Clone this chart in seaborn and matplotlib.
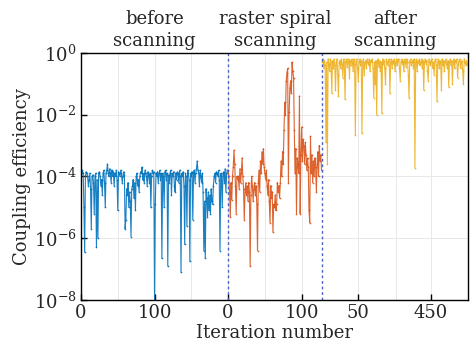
import numpy as np
import pandas as pd
import seaborn as sns
import matplotlib
matplotlib.use("Agg")
import matplotlib.pyplot as plt
from matplotlib.ticker import LogLocator, NullLocator, FixedLocator, NullFormatter

# log10 of coupling efficiency
before_log = [
    -4.1, -3.9, -3.8, -3.9, -5.0, -6.45, -4.0, -3.85, -3.9, -4.0, -4.3, -4.1, -3.9, -4.4, -5.7, -4.0, -3.95, -4.2, -5.2, -4.0,
    -3.9, -6.3, -4.1, -6.0, -3.9, -3.85, -4.0, -4.3, -4.1, -4.6, -3.9, -3.8, -4.2, -5.0, -3.9, -3.8, -3.6, -3.9, -4.0, -3.75,
    -3.9, -4.2, -3.8, -4.0, -3.85, -4.3, -3.9, -4.0, -3.8, -4.1, -5.1, -3.85, -3.9, -4.0, -3.8, -3.9, -4.2, -4.0, -3.85, -3.95,
    -5.7, -5.4, -4.4, -4.6, -4.2, -5.0, -4.5, -4.8, -5.95, -4.4, -4.3, -4.1, -4.7, -4.2, -5.1, -4.0, -3.9, -4.3, -4.1, -4.5,
    -4.0, -3.85, -3.9, -3.7, -4.1, -3.9, -4.2, -3.8, -3.9, -4.0, -4.3, -3.85, -3.95, -4.2, -3.9, -5.0, -4.0, -3.8, -3.9, -3.85,
    -8.0, -4.9, -3.9, -4.0, -3.85, -4.2, -3.9, -3.8, -4.1, -3.9, -6.65, -3.9, -4.0, -5.0, -3.85, -3.8, -4.1, -3.9, -6.9, -3.95,
    -4.2, -3.9, -3.8, -4.6, -3.9, -4.0, -3.85, -4.3, -4.5, -3.9, -4.1, -3.85, -3.9, -4.2, -3.8, -4.0, -7.1, -3.9, -4.0, -3.85,
    -4.3, -6.2, -3.9, -4.0, -5.6, -3.8, -3.9, -4.1, -6.75, -3.9, -4.0, -3.85, -5.4, -3.9, -3.8, -4.2, -3.9, -3.75, -3.5, -3.8,
    -3.9, -4.3, -3.8, -4.0, -4.2, -3.9, -4.5, -6.4, -4.8, -6.65, -4.4, -4.7, -5.3, -4.5, -5.1, -4.6, -5.2, -4.4, -4.8, -4.9,
    -4.3, -4.0, -3.9, -4.2, -3.85, -3.9, -4.0, -3.8, -4.1, -6.4, -3.9, -4.0, -5.0, -3.9, -3.85, -4.2, -3.75, -4.5, -3.9, -3.8,
]
raster_log = [
    -3.8, -4.0, -4.5, -5.3, -4.2, -4.75, -4.0, -3.7, -3.15, -3.6, -4.3, -5.2, -4.0, -4.1, -4.0, -4.4, -3.75, -4.2, -3.9, -3.4,
    -4.0, -4.4, -5.4, -4.5, -4.2, -4.6, -4.3, -4.8, -4.2, -4.5, -6.9, -4.6, -4.0, -4.3, -4.8, -4.4, -4.2, -4.6, -4.3, -4.9,
    -6.4, -4.2, -3.8, -4.5, -3.5, -3.9, -3.2, -3.6, -3.1, -3.7, -3.9, -4.1, -3.8, -4.3, -4.6, -4.1, -4.8, -5.5, -4.3, -4.7,
    -4.5, -5.8, -4.9, -5.0, -4.6, -5.1, -4.9, -4.2, -4.5, -4.3, -4.7, -4.2, -3.5, -4.0, -3.2, -3.6, -2.5, -1.6, -2.0, -0.9,
    -0.65, -0.5, -4.2, -1.9, -1.15, -0.9, -1.3, -0.3, -0.6, -0.8, -2.5, -3.9, -3.1, -5.2, -3.4, -3.6, -3.9, -1.4, -5.2, -3.3,
    -2.4, -3.5, -2.8, -3.0, -3.6, -2.9, -3.3, -3.8, -3.4, -3.7, -5.1, -5.5, -2.7, -3.9, -3.3, -4.2, -3.5, -4.0, -3.4, -3.7,
    -4.5, -3.6, -3.2, -4.0, -3.0, -3.5, -3.3, -3.8,
]
after_log = [
    -0.3, -0.2, -0.5, -0.25, -0.4, -2.9, -0.3, -3.6, -0.2, -0.35, -0.6, -0.2, -0.3, -1.3, -0.25, -0.5, -0.2, -0.4, -1.2, -0.3,
    -0.2, -0.7, -1.4, -0.3, -0.25, -0.5, -0.2, -0.35, -0.8, -0.2, -0.3, -1.5, -0.25, -0.2, -0.45, -0.3, -0.2, -0.8, -0.25, -0.4,
    -0.2, -0.3, -0.6, -0.2, -0.35, -2.65, -0.25, -0.2, -0.5, -0.9, -0.3, -0.2, -0.4, -0.25, -2.6, -0.3, -0.2, -0.7, -0.3, -0.25,
    -0.5, -0.2, -0.3, -0.4, -0.2, -0.6, -0.25, -0.3, -0.2, -0.5, -1.45, -0.3, -1.0, -0.25, -2.0, -0.3, -0.2, -0.45, -0.25, -0.6,
    -0.3, -1.95, -0.2, -0.35, -0.25, -0.5, -1.0, -0.2, -0.3, -0.4, -0.25, -0.2, -1.3, -0.3, -0.2, -0.5, -0.25, -0.35, -0.2, -0.6,
    -0.3, -0.2, -0.4, -0.25, -0.2, -0.5, -0.9, -0.3, -0.2, -0.35, -0.25, -0.6, -0.2, -0.3, -0.45, -0.2, -0.3, -0.7, -1.46, -0.25,
    -0.2, -0.4, -0.3, -0.25, -0.5, -0.2, -3.72, -0.3, -0.2, -0.6, -0.25, -0.35, -0.2, -0.4, -0.3, -0.2, -0.5, -0.25, -1.2, -0.3,
    -0.2, -0.35, -0.25, -0.6, -0.9, -0.2, -0.3, -0.4, -0.25, -0.2, -0.5, -0.3, -0.7, -0.25, -0.2, -0.4, -1.57, -0.3, -0.2, -0.5,
    -0.25, -0.3, -1.2, -0.2, -0.4, -0.25, -0.6, -0.3, -0.2, -0.35, -0.5, -0.25, -1.1, -0.3, -0.2, -0.4, -0.25, -1.0, -0.3, -0.2,
    -0.5, -0.25, -0.3, -0.2, -0.8, -0.35, -0.25, -0.2, -0.5, -0.3, -0.25, -0.6, -1.0, -0.2, -0.3, -0.4, -0.25, -0.35,
]

phases = ["before", "raster", "after"]
phase_titles = ["before\nscanning", "raster spiral\nscanning", "after\nscanning"]
colors = ["#0072BD", "#D95319", "#EDB120"]

tick_pos = [0, 100, 200, 300, 377, 476]
tick_labels = ["0", "100", "0", "100", "50", "450"]
extra_grid = [50, 150, 250, 428]

segs = [before_log, raster_log, after_log]
rows = []
start = 0
bounds = []
for name, seg in zip(phases, segs):
    for i, v in enumerate(seg):
        rows.append((start + i, 10 ** v, name))
    bounds.append((start, start + len(seg)))
    start += len(seg)
df = pd.DataFrame(rows, columns=["x", "eff", "phase"])

sns.set_style("whitegrid")
plt.rcParams["font.family"] = ["DejaVu Serif"]
plt.rcParams["mathtext.fontset"] = "dejavuserif"

fig = plt.figure(figsize=(4.75, 3.46), dpi=100)
ax = fig.add_axes([0.1705, 0.133, 0.8145, 0.714])

sns.lineplot(data=df, x="x", y="eff", hue="phase", palette=colors, hue_order=phases,
             estimator=None, sort=False, legend=False, ax=ax,
             linewidth=0.8, marker=".", markersize=2.5, markeredgewidth=0, alpha=0.9)

ax.set_yscale("log")
ax.set_ylim(1e-8, 1)
ax.set_xlim(0, start)
ax.yaxis.set_major_locator(LogLocator(base=100))
ax.yaxis.set_minor_locator(NullLocator())
ax.xaxis.set_major_locator(FixedLocator(tick_pos))
ax.set_xticklabels(tick_labels)
ax.xaxis.set_minor_locator(FixedLocator(extra_grid))
ax.xaxis.set_minor_formatter(NullFormatter())

ax.grid(True, which="major", color="#e8e8e8", linewidth=0.7)
ax.grid(True, which="minor", axis="x", color="#e8e8e8", linewidth=0.7)
ax.tick_params(which="major", direction="in", length=4, width=1, labelsize=13, color="black",
               bottom=True, left=True, pad=3)
ax.tick_params(which="minor", length=0)

for s in ax.spines.values():
    s.set_color("black")
    s.set_linewidth(1)

for b in [bounds[1][0], bounds[2][0]]:
    ax.axvline(b, color="#4a62c4", linestyle=(0, (2, 2)), linewidth=1)

for (a, b), t in zip(bounds, phase_titles):
    ax.text((a + b) / 2, 1.01, t, transform=ax.get_xaxis_transform(), ha="center", va="bottom",
            fontsize=13, linespacing=1.3)

ax.set_xlabel("Iteration number", fontsize=13, labelpad=1)
ax.set_ylabel("Coupling efficiency", fontsize=13, labelpad=2)

fig.savefig("out.png", dpi=100)
